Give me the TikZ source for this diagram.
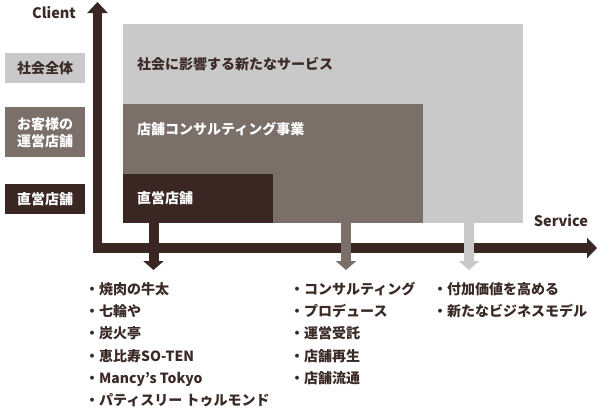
\documentclass[tikz,border=0pt]{standalone}
\usepackage{fontspec}
\setmainfont{Noto Sans CJK JP}
\usetikzlibrary{arrows.meta}
\definecolor{darkc}{HTML}{3A2723}
\definecolor{midc}{HTML}{7B6F6A}
\definecolor{lightc}{HTML}{C9C9C9}
\definecolor{txtc}{HTML}{3A2A26}
\tikzset{
  area/.style={fill=#1, draw=none, inner sep=0pt, anchor=north west},
  lbox/.style={fill=#1, draw=none, inner sep=0pt, minimum width=80pt, anchor=north west, align=center},
  axisline/.style={draw=darkc, line width=9.5pt, line join=miter, {Triangle[width=20pt,length=11pt]}-{Triangle[width=20pt,length=10pt]}},
  downarr/.style={draw=#1, line width=10pt, -{Triangle[width=20pt,length=9pt]}},
  item/.style={anchor=west, text=txtc, inner sep=0pt, text height=10pt, text depth=3pt},
  boxtxt/.style={anchor=west, inner sep=0pt, text height=10pt, text depth=3pt},
}
\begin{document}
\begin{tikzpicture}[x=1pt,y=-1pt, font=\fontsize{14}{17}\selectfont\bfseries]
\useasboundingbox (0,0) rectangle (600,410);
\fill[white] (0,0) rectangle (600,410);
% areas
\node[area=lightc, minimum width=400pt, minimum height=199pt] (big) at (123,24) {};
\node[area=midc, minimum width=300pt, minimum height=119pt] (mid) at (123,104) {};
\node[area=darkc, minimum width=150pt, minimum height=49pt] (dark) at (123,174) {};
\node[boxtxt, text=txtc] (bigt) at (137,66) {社会に影響する新たなサービス};
\node[boxtxt, text=white] (midt) at (137,131) {店舗コンサルティング事業};
\node[boxtxt, text=white] (darkt) at (137,200) {直営店舗};
% left labels
\node[lbox=lightc, minimum height=30pt, text=txtc] (l1) at (5,53) {社会全体};
\node[lbox=midc, minimum height=50pt, text=white] (l2) at (5,107) {お客様の\\運営店舗};
\node[lbox=darkc, minimum height=30pt, text=white] (l3) at (5,184) {直営店舗};
% axes
\coordinate (ytop) at (97.5,2);
\coordinate (orig) at (97.5,248);
\coordinate (xend) at (597,248);
\draw[axisline] (ytop) -- (orig) -- (xend);
\node[text=txtc, font=\fontsize{14.5}{17}\selectfont\bfseries] (client) at (54,13) {Client};
\node[text=txtc, font=\fontsize{14.5}{17}\selectfont\bfseries] (service) at (561,221) {Service};
% down arrows
\coordinate (a1) at (153.5,270);
\coordinate (a2) at (346,270);
\coordinate (a3) at (469,270);
\draw[downarr=darkc] (dark.south -| a1) -- (a1);
\draw[downarr=midc] (mid.south -| a2) -- (a2);
\draw[downarr=lightc] (big.south -| a3) -- (a3);
% lists
\node[item] (c1a) at (85,291) {・焼肉の牛太};
\node[item] (c1b) at (85,313) {・七輪や};
\node[item] (c1c) at (85,335) {・炭火亭};
\node[item] (c1d) at (85,358) {・恵比寿SO-TEN};
\node[item] (c1e) at (85,380) {・Mancy’s Tokyo};
\node[item] (c1f) at (85,402) {・パティスリー トゥルモンド};
\node[item] (c2a) at (290,291) {・コンサルティング};
\node[item] (c2b) at (290,313) {・プロデュース};
\node[item] (c2c) at (290,335) {・運営受託};
\node[item] (c2d) at (290,358) {・店舗再生};
\node[item] (c2e) at (290,380) {・店舗流通};
\node[item] (c3a) at (433,291) {・付加価値を高める};
\node[item] (c3b) at (433,313) {・新たなビジネスモデル};
\end{tikzpicture}
\end{document}
